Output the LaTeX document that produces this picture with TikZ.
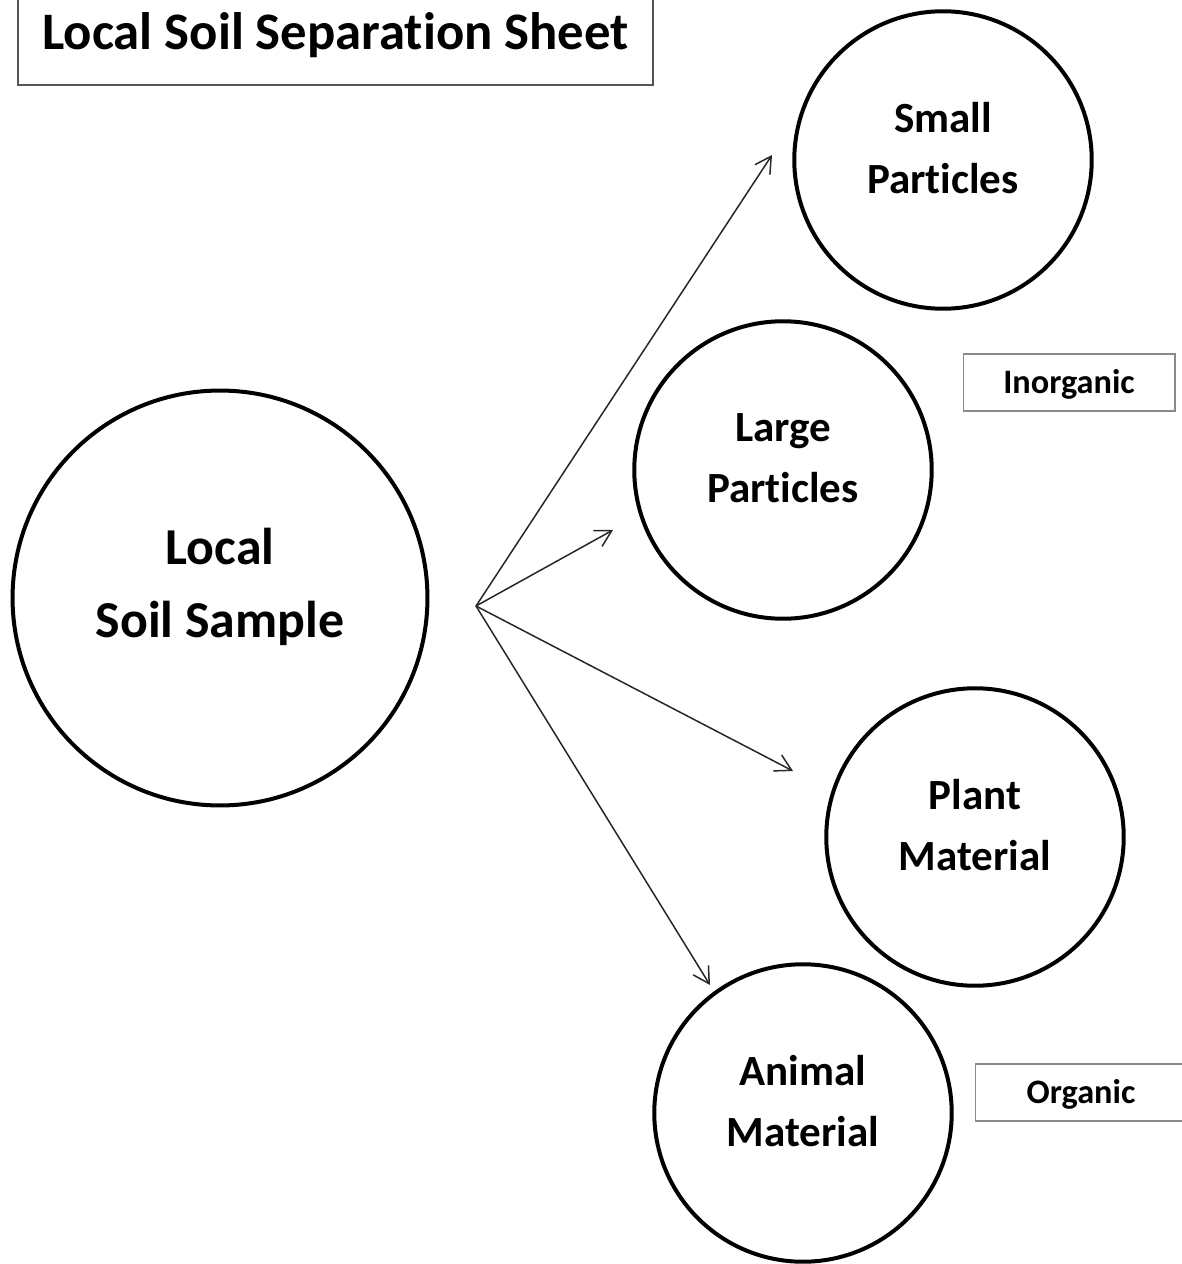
\documentclass[tikz,border=0pt]{standalone}
\usepackage{fontspec}
\setmainfont{Carlito}[Ligatures=NoCommon]
\usepackage{xcolor}
\definecolor{ssInk}{HTML}{000000}
\definecolor{ssFrame}{HTML}{555555}
\definecolor{ssTag}{HTML}{8a8a8a}
\usepackage{tikz}
\usetikzlibrary{arrows.meta}

\begin{document}
\begin{tikzpicture}[
      x=0.02cm,y=-0.02cm,
      every node/.style={font=\bfseries},
      sample/.style={circle,draw=ssInk,line width=0.08cm,minimum size=8.3cm,
                     align=center,inner sep=0pt,text depth=0.61cm,
                     font=\fontsize{29.5}{41.5}\selectfont\bfseries},
      part/.style={circle,draw=ssInk,line width=0.08cm,minimum size=5.95cm,
                   align=center,inner sep=0pt,text depth=0.48cm,
                   font=\fontsize{24.5}{35}\selectfont\bfseries},
      tag/.style={rectangle,draw=ssTag,line width=0.6pt,minimum width=4.24cm,
                  minimum height=1.14cm,inner sep=0pt,text depth=0.05cm,
                  font=\fontsize{19.5}{22}\selectfont\bfseries},
      arr/.style={-{Straight Barb[length=3.2mm,width=3.6mm]},line width=0.85pt,ssInk!85},
    ]
    \useasboundingbox (0,0) rectangle (1181,1264);

    % Title box, cut at the top edge
    \node[rectangle,draw=ssFrame,line width=1pt,minimum width=12.7cm,
          minimum height=2cm,font=\fontsize{30}{34}\selectfont\bfseries]
          (title) at (335.5,35) {Local Soil Separation Sheet};

    % The sample and its four fractions
    \node[sample] (sample) at (220,598) {Local\\Soil Sample};
    \node[part] (small)  at (943,160)  {Small\\Particles};
    \node[part] (large)  at (783,470)  {Large\\Particles};
    \node[part] (plant)  at (975,837)  {Plant\\Material};
    \node[part] (animal) at (803,1113) {Animal\\Material};

    % Group tags
    \node[tag] (inorg) at (1069,382.5) {Inorganic};
    \node[tag] (org)   at (1081,1092.5) {Organic};

    % Fan of arrows
    \coordinate (hub) at (476,606);
    \coordinate (toSmall)  at (772,155);
    \coordinate (toLarge)  at (613,530);
    \coordinate (toPlant)  at (793,771);
    \coordinate (toAnimal) at (710,985);
    \draw[arr] (hub) -- (toSmall);
    \draw[arr] (hub) -- (toLarge);
    \draw[arr] (hub) -- (toPlant);
    \draw[arr] (hub) -- (toAnimal);

  \end{tikzpicture}
\end{document}
